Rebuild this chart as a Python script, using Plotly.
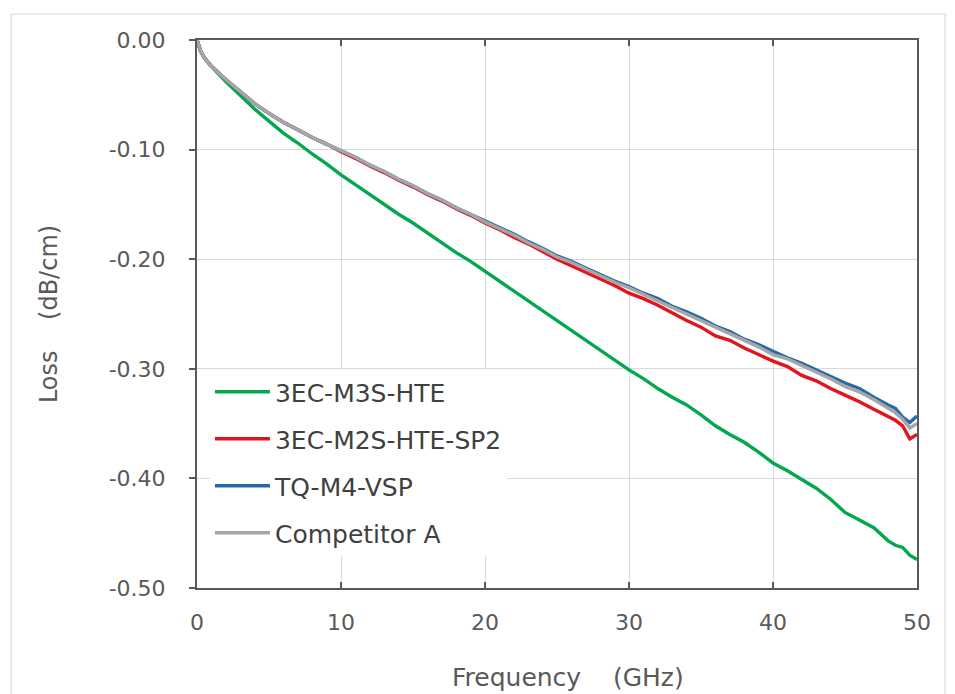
import plotly.graph_objects as go

freq = [0, 0.25, 0.5, 1, 2, 3, 4, 5, 6, 7, 8, 9, 10, 11, 12, 13, 14, 15, 16, 17, 18, 19,
        20, 21, 22, 23, 24, 25, 26, 27, 28, 29, 30, 31, 32, 33, 34, 35, 36, 37, 38, 39,
        40, 41, 42, 43, 44, 45, 46, 47, 48, 48.5, 49, 49.5, 50]

m3s_hte = [0, -0.010, -0.016, -0.024, -0.038, -0.051, -0.063, -0.074, -0.085, -0.094, -0.104,
           -0.113, -0.123, -0.132, -0.141, -0.150, -0.159, -0.167, -0.176, -0.185, -0.194,
           -0.202, -0.211, -0.220, -0.229, -0.238, -0.247, -0.256, -0.265, -0.274, -0.283,
           -0.292, -0.301, -0.309, -0.318, -0.326, -0.333, -0.342, -0.352, -0.360, -0.367,
           -0.376, -0.386, -0.393, -0.401, -0.409, -0.419, -0.431, -0.438, -0.445, -0.457,
           -0.461, -0.463, -0.470, -0.474]

m2s_hte_sp2 = [0, -0.010, -0.016, -0.024, -0.036, -0.047, -0.058, -0.067, -0.075, -0.082,
               -0.089, -0.095, -0.102, -0.108, -0.115, -0.121, -0.128, -0.134, -0.141, -0.147,
               -0.154, -0.160, -0.167, -0.173, -0.180, -0.186, -0.193, -0.200, -0.206, -0.212,
               -0.218, -0.224, -0.231, -0.236, -0.242, -0.249, -0.256, -0.262, -0.270, -0.274,
               -0.281, -0.287, -0.293, -0.298, -0.306, -0.311, -0.318, -0.324, -0.330, -0.337,
               -0.344, -0.347, -0.352, -0.364, -0.360]

tq_m4_vsp = [0, -0.010, -0.016, -0.024, -0.036, -0.047, -0.058, -0.067, -0.075, -0.082,
             -0.089, -0.095, -0.101, -0.107, -0.114, -0.120, -0.127, -0.133, -0.140, -0.146,
             -0.153, -0.159, -0.165, -0.171, -0.177, -0.184, -0.190, -0.197, -0.202, -0.208,
             -0.214, -0.220, -0.225, -0.231, -0.236, -0.243, -0.248, -0.254, -0.261, -0.266,
             -0.273, -0.278, -0.284, -0.290, -0.295, -0.301, -0.307, -0.313, -0.318, -0.326,
             -0.333, -0.336, -0.344, -0.349, -0.343]

competitor_a = [0, -0.010, -0.016, -0.024, -0.036, -0.047, -0.058, -0.067, -0.075, -0.082,
                -0.089, -0.095, -0.101, -0.107, -0.114, -0.120, -0.127, -0.133, -0.140, -0.146,
                -0.153, -0.159, -0.166, -0.172, -0.178, -0.185, -0.191, -0.198, -0.203, -0.209,
                -0.215, -0.221, -0.226, -0.232, -0.238, -0.244, -0.250, -0.256, -0.262, -0.268,
                -0.274, -0.280, -0.287, -0.291, -0.297, -0.303, -0.309, -0.316, -0.321, -0.328,
                -0.336, -0.340, -0.346, -0.354, -0.350]

names = ["3EC-M3S-HTE", "3EC-M2S-HTE-SP2", "TQ-M4-VSP", "Competitor A"]
colors = ["#00a850", "#e3141b", "#2468a8", "#a6a6a6"]
series = [m3s_hte, m2s_hte_sp2, tq_m4_vsp, competitor_a]

y_ticks = [0, -0.1, -0.2, -0.3, -0.4, -0.5]
y_ticktext = ["0.00", "-0.10", "-0.20", "-0.30", "-0.40", "-0.50"]
x_ticks = [0, 10, 20, 30, 40, 50]
x_title = "Frequency\u00a0\u00a0\u00a0\u00a0(GHz)"
y_title = "Loss\u00a0\u00a0\u00a0\u00a0(dB/cm)\u00a0\u00a0"

fig = go.Figure()
for i, (nm, col, ys) in enumerate(zip(names, colors, series)):
    fig.add_trace(go.Scatter(x=freq, y=ys, mode="lines", name=nm,
                             legendgroup=f"g{i}",
                             line=dict(color=col, width=3.4)))

font = "DejaVu Sans"
fig.update_layout(
    width=947, height=686,
    margin=dict(l=189, r=38, t=32, b=106, autoexpand=False),
    paper_bgcolor="white", plot_bgcolor="white",
    font=dict(family=font, color="#595959"),
    showlegend=True,
    legend=dict(x=0.018, y=0.3995, xanchor="left", yanchor="top",
                bgcolor="white", borderwidth=0,
                font=dict(family=font, size=25, color="#404040"),
                tracegroupgap=11.5, itemwidth=55,
                traceorder="grouped"),
    shapes=[dict(type="rect", xref="paper", yref="paper",
                 x0=-0.258, x1=1.039, y0=-0.3, y1=1.0474,
                 line=dict(color="#e3e3e3", width=1.5), layer="below")],
    annotations=[dict(text=x_title, xref="paper", yref="paper",
                      x=0.5146, y=-0.1642, xanchor="center", yanchor="middle",
                      showarrow=False,
                      font=dict(family=font, size=25, color="#595959"))],
)
fig.update_xaxes(
    range=[0, 50], tickvals=x_ticks, automargin=False,
    showgrid=True, gridcolor="#d9d9d9", gridwidth=1,
    showline=True, linecolor="#595959", linewidth=2, mirror="ticks",
    ticks="inside", ticklen=6, tickcolor="#595959", tickwidth=1.5,
    tickfont=dict(family=font, size=22, color="#595959"),
    ticklabelstandoff=14,
    zeroline=False,
)
fig.update_yaxes(
    range=[-0.5, 0], tickvals=y_ticks, ticktext=y_ticktext, automargin=False,
    showgrid=True, gridcolor="#d9d9d9", gridwidth=1,
    showline=True, linecolor="#595959", linewidth=2, mirror=True,
    ticks="outside", ticklen=6, tickcolor="#595959", tickwidth=1.5,
    tickfont=dict(family=font, size=22, color="#595959"),
    ticklabelstandoff=19,
    title=dict(text=y_title,
               font=dict(family=font, size=24, color="#595959"), standoff=44),
    zeroline=False,
)

fig.write_html("out.html")
